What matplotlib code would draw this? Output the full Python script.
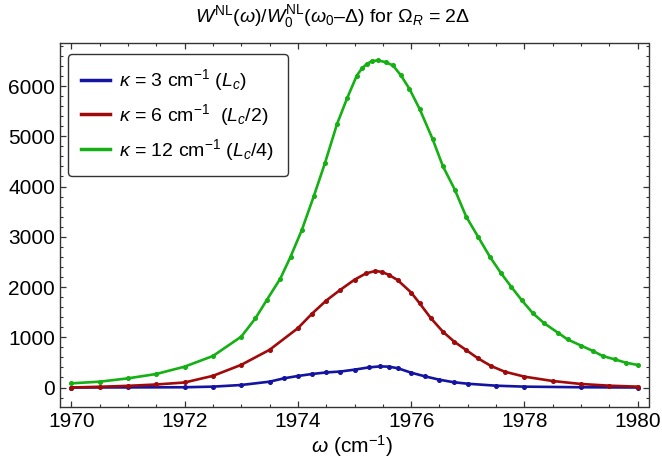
import matplotlib
matplotlib.use('Agg')
import matplotlib.pyplot as plt
from matplotlib.ticker import MultipleLocator

plt.rcParams['font.family'] = ['Liberation Sans', 'DejaVu Sans']
plt.rcParams['mathtext.fontset'] = 'custom'
plt.rcParams['mathtext.rm'] = 'Liberation Sans'
plt.rcParams['mathtext.it'] = 'Liberation Sans:italic'
plt.rcParams['mathtext.bf'] = 'Liberation Sans:bold'

# data
blue_x = [1970, 1971, 1972, 1972.5, 1973, 1973.5, 1973.75, 1974, 1974.25, 1974.5,
          1974.75, 1975, 1975.25, 1975.45, 1975.6, 1975.76, 1976, 1976.25, 1976.5,
          1976.75, 1977, 1977.5, 1978, 1979, 1980]
blue_y = [0, 2, 5, 17, 50, 116, 182, 229, 269, 300,
          318, 355, 400, 420, 415, 385, 295, 220, 155,
          105, 75, 36, 17, 5, 0]

red_x = [1970, 1970.5, 1971, 1971.5, 1972, 1972.5, 1973, 1973.5, 1974, 1974.25,
         1974.5, 1974.75, 1975, 1975.2, 1975.37, 1975.48, 1975.6, 1975.76, 1976, 1976.15,
         1976.35, 1976.56, 1976.76, 1976.97, 1977.18, 1977.41, 1977.65, 1978,
         1978.5, 1979, 1979.5, 1980]
red_y = [0, 15, 33, 60, 100, 232, 451, 750, 1181, 1470,
         1730, 1945, 2145, 2270, 2320, 2300, 2245, 2139, 1890, 1675,
         1376, 1111, 912, 746, 580, 428, 315, 216,
         129, 70, 36, 17]

green_x = [1970, 1970.5, 1971, 1971.5, 1972, 1972.5, 1973, 1973.25, 1973.45, 1973.69,
           1973.87, 1974.07, 1974.28, 1974.48, 1974.69, 1974.87, 1975.04, 1975.13, 1975.22,
           1975.31, 1975.41, 1975.55, 1975.68, 1975.82, 1975.97, 1976.15, 1976.38, 1976.56,
           1976.77, 1976.97, 1977.18, 1977.39, 1977.59, 1977.77, 1977.95, 1978.15, 1978.35,
           1978.59, 1978.76, 1979, 1979.21, 1979.38, 1979.59, 1979.79, 1980]
green_y = [83, 116, 182, 269, 415, 627, 1012, 1376, 1740, 2168,
           2601, 3136, 3804, 4473, 5240, 5760, 6208, 6350, 6443,
           6495, 6510, 6475, 6409, 6210, 5942, 5541, 4940, 4405,
           3938, 3403, 3002, 2601, 2269, 2000, 1740, 1476, 1277,
           1091, 958, 833, 727, 627, 561, 494, 448]

labels = [r'$\kappa$ = 3 cm$^{-1}$ ($L_c$)',
          r'$\kappa$ = 6 cm$^{-1}$  ($L_c$/2)',
          r'$\kappa$ = 12 cm$^{-1}$ ($L_c$/4)']
colors = ['#1414a0', '#a00a0a', '#14b014']

fig = plt.figure(figsize=(6.62, 4.66), dpi=100)
ax = fig.add_axes([60/662, 1 - 406.7/466, 588.5/662, 363.7/466])

for xs, ys, c, lab in zip([blue_x, red_x, green_x], [blue_y, red_y, green_y], colors, labels):
    ax.plot(xs, ys, color=c, lw=1.9, label=lab, solid_joinstyle='round')
    ax.plot(xs, ys, 'o', color=c, ms=2.6)

ax.set_xlim(1969.8, 1980.19)
ax.set_ylim(-382, 6856)
ax.xaxis.set_major_locator(MultipleLocator(2))
ax.xaxis.set_minor_locator(MultipleLocator(0.5))
ax.yaxis.set_major_locator(MultipleLocator(1000))
ax.yaxis.set_minor_locator(MultipleLocator(200))
ax.tick_params(which='both', direction='in', top=True, right=True, labelsize=15,
               colors='#333333', labelcolor='black')
ax.tick_params(which='major', length=4.5, width=0.9)
ax.tick_params(which='minor', length=2.5, width=0.8)
for s in ax.spines.values():
    s.set_color('#333333')
    s.set_linewidth(1.0)

fig.text(0.503, 1 - 17/466, r'$W^{\mathrm{NL}}(\omega)/W_0^{\mathrm{NL}}(\omega_0$–Δ) for $\Omega_R$ = 2Δ',
         ha='center', va='center', fontsize=14)
fig.text(352/662, 1 - 446/466, r'$\omega$ (cm$^{-1}$)', ha='center', va='center', fontsize=15)

leg = ax.legend(loc='upper left', bbox_to_anchor=(0.013, 0.970), borderaxespad=0,
                fontsize=14, handlelength=1.5, handletextpad=0.45, labelspacing=0.45,
                borderpad=0.7, fancybox=True, framealpha=1)
leg.get_frame().set_edgecolor('#333333')
leg.get_frame().set_linewidth(1.0)
for line in leg.get_lines():
    line.set_linewidth(2.5)

plt.savefig('out.png', dpi=100)
plt.close()
